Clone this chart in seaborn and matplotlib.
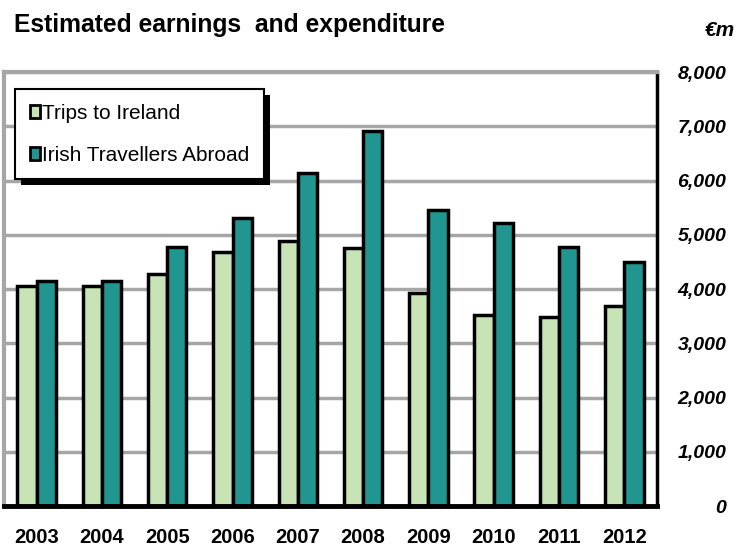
import pandas as pd
import numpy as np
from matplotlib import pyplot as plt
from matplotlib.patches import Rectangle
import seaborn as sns

# Estimated earnings and expenditure, EUR m
years = ['2003', '2004', '2005', '2006', '2007', '2008', '2009', '2010', '2011', '2012']
trips_to_ireland = [4060, 4060, 4280, 4690, 4890, 4760, 3920, 3530, 3490, 3680]
irish_abroad = [4150, 4150, 4780, 5310, 6140, 6910, 5460, 5220, 4780, 4490]
series_names = ['Trips to Ireland', 'Irish Travellers Abroad']
y_ticks = [0, 1000, 2000, 3000, 4000, 5000, 6000, 7000, 8000]

df = pd.DataFrame({'year': years * 2,
                   'value': trips_to_ireland + irish_abroad,
                   'series': [series_names[0]] * len(years) + [series_names[1]] * len(years)})

sns.set_style('white')
plt.rcParams['font.family'] = ['Liberation Sans', 'DejaVu Sans']
plt.rcParams['text.color'] = 'black'
plt.rcParams['xtick.color'] = 'black'
plt.rcParams['ytick.color'] = 'black'

fig = plt.figure(figsize=(7.37, 5.49), dpi=100)
ax = fig.add_axes([0.0054, 0.0783, 0.886, 0.7905])

colors = ['#c8e3b6', '#219690']
sns.barplot(data=df, x='year', y='value', hue='series', palette=colors,
            width=0.59, edgecolor='black', linewidth=2.5, ax=ax, legend=False,
            saturation=1)

ax.set_ylim(0, 8000)
ax.set_xlim(-0.5, len(years) - 0.5)
ax.set_yticks(y_ticks)
ax.yaxis.tick_right()
ax.set_yticklabels(['{:,}'.format(v) for v in y_ticks], fontsize=14,
                   fontweight='bold', style='italic')
ax.set_xticks(range(len(years)))
ax.set_xticklabels(years, fontsize=14.5, fontweight='bold')
ax.tick_params(axis='y', length=0, pad=50)
ax.tick_params(axis='x', length=0, pad=16)
for lab in ax.get_yticklabels():
    lab.set_horizontalalignment('right')
ax.set_xlabel('')
ax.set_ylabel('')

ax.grid(axis='y', color='#a6a6a6', linewidth=2.5, zorder=0)
ax.set_axisbelow(True)
ax.spines['left'].set_color('#a6a6a6')
ax.spines['left'].set_linewidth(3)
ax.spines['top'].set_color('#a6a6a6')
ax.spines['top'].set_linewidth(3)
ax.spines['right'].set_color('black')
ax.spines['right'].set_linewidth(2.5)
ax.spines['bottom'].set_color('black')
ax.spines['bottom'].set_linewidth(3.5)

handles = [Rectangle((0, 0), 1, 1, facecolor=c, edgecolor='black', linewidth=2) for c in colors]
leg = ax.legend(handles, series_names, loc='upper left', bbox_to_anchor=(0.017, 0.96),
                fontsize=15, frameon=True, fancybox=False, framealpha=1,
                handlelength=0.5, handleheight=0.55, handletextpad=0.1,
                labelspacing=1.1, borderpad=0.7, borderaxespad=0)
leg.get_frame().set_edgecolor('black')
leg.get_frame().set_linewidth(1.5)
leg.get_frame().set_facecolor('white')
leg.set_zorder(10)

# drop shadow under the legend box
fig.canvas.draw()
bb = leg.get_window_extent().transformed(ax.transAxes.inverted())
dx = 6 / ax.bbox.width
dy = 6 / ax.bbox.height
ax.add_patch(Rectangle((bb.x0 + dx, bb.y0 - dy), bb.width, bb.height,
                       transform=ax.transAxes, facecolor='black', edgecolor='none',
                       zorder=9, clip_on=False))

fig.text(0.019, 0.955, 'Estimated earnings  and expenditure', fontsize=17.7,
         fontweight='bold', ha='left', va='center')
fig.text(0.997, 0.945, '\u20acm', fontsize=15, fontweight='bold', style='italic',
         ha='right', va='center')

fig.savefig('out.png', dpi=100)
